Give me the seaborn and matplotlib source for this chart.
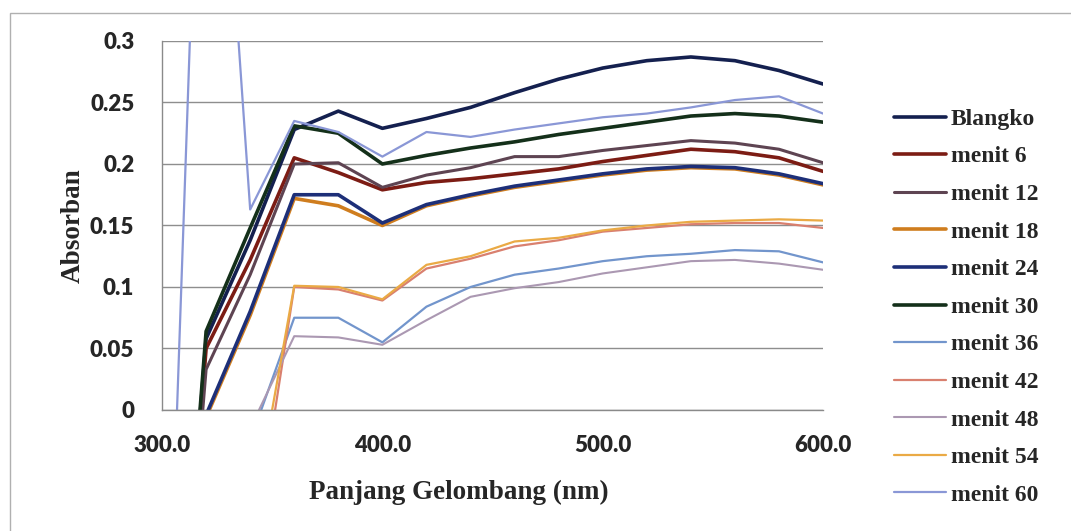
import matplotlib
matplotlib.use("Agg")
import matplotlib.pyplot as plt
from matplotlib.patches import Rectangle
import seaborn as sns

# wavelength grid (nm)
wavelength = [300, 320, 340, 360, 380, 400, 420, 440, 460, 480, 500, 520, 540, 560, 580, 600]

blangko = [-0.40, 0.058, 0.138, 0.228, 0.243, 0.229, 0.237, 0.246, 0.258, 0.269, 0.278, 0.284, 0.287, 0.284, 0.276, 0.265]
menit_6 = [-0.40, 0.050, 0.122, 0.205, 0.193, 0.179, 0.185, 0.188, 0.192, 0.196, 0.202, 0.207, 0.212, 0.210, 0.205, 0.194]
menit_12 = [-0.40, 0.033, 0.110, 0.200, 0.201, 0.181, 0.191, 0.197, 0.206, 0.206, 0.211, 0.215, 0.219, 0.217, 0.212, 0.201]
menit_18 = [-0.40, -0.006, 0.077, 0.172, 0.166, 0.150, 0.166, 0.174, 0.181, 0.186, 0.191, 0.195, 0.197, 0.196, 0.191, 0.183]
menit_24 = [-0.40, -0.004, 0.080, 0.175, 0.175, 0.152, 0.167, 0.175, 0.182, 0.187, 0.192, 0.196, 0.198, 0.197, 0.192, 0.184]
menit_30 = [-0.40, 0.064, 0.148, 0.231, 0.225, 0.200, 0.207, 0.213, 0.218, 0.224, 0.229, 0.234, 0.239, 0.241, 0.239, 0.234]
menit_36 = [-0.30, -0.15, -0.025, 0.075, 0.075, 0.055, 0.084, 0.100, 0.110, 0.115, 0.121, 0.125, 0.127, 0.130, 0.129, 0.120]
menit_42 = [-0.40, -0.30, -0.13, 0.100, 0.098, 0.089, 0.115, 0.123, 0.133, 0.138, 0.145, 0.148, 0.151, 0.152, 0.152, 0.148]
menit_48 = [-0.30, -0.15, -0.015, 0.060, 0.059, 0.053, 0.073, 0.092, 0.099, 0.104, 0.111, 0.116, 0.121, 0.122, 0.119, 0.114]
menit_54 = [-0.40, -0.30, -0.10, 0.101, 0.100, 0.090, 0.118, 0.125, 0.137, 0.140, 0.146, 0.150, 0.153, 0.154, 0.155, 0.154]
menit_60 = [-0.35, 0.68, 0.163, 0.235, 0.226, 0.206, 0.226, 0.222, 0.228, 0.233, 0.238, 0.241, 0.246, 0.252, 0.255, 0.241]

labels = ["Blangko", "menit 6", "menit 12", "menit 18", "menit 24", "menit 30",
          "menit 36", "menit 42", "menit 48", "menit 54", "menit 60"]
series = [blangko, menit_6, menit_12, menit_18, menit_24, menit_30,
          menit_36, menit_42, menit_48, menit_54, menit_60]
colors = ["#14204f", "#7c1c14", "#5e4452", "#cf7d1e", "#1d2f78", "#14301a",
          "#7295cc", "#d9806f", "#ab98b2", "#eaaa45", "#8a97d6"]
widths = [2.6, 2.6, 2.2, 2.6, 2.6, 2.6, 1.6, 1.6, 1.5, 1.6, 1.6]

x_ticks = [300, 400, 500, 600]
y_ticks = [0, 0.05, 0.1, 0.15, 0.2, 0.25, 0.3]
y_ticklabels = ["0", "0.05", "0.1", "0.15", "0.2", "0.25", "0.3"]

sns.set_style("white")
plt.rcParams["font.family"] = ["Lato", "DejaVu Sans"]

fig = plt.figure(figsize=(10.71, 5.31), dpi=100)
ax = fig.add_axes([0.1513, 0.2279, 0.6172, 0.6949])

for lab, vals, col, lw in zip(labels, series, colors, widths):
    sns.lineplot(x=wavelength, y=vals, ax=ax, color=col, linewidth=lw, label=lab)

ax.set_xlim(300, 600)
ax.set_ylim(0, 0.3)
ax.set_xticks(x_ticks)
ax.set_xticklabels([f"{v:.1f}" for v in x_ticks])
ax.set_yticks(y_ticks)
ax.set_yticklabels(y_ticklabels)
ax.tick_params(axis="x", labelsize=16, length=5, width=1, color="#8a8a8a",
               direction="out", pad=13)
ax.tick_params(axis="y", labelsize=16, length=8, width=1, color="#8a8a8a",
               direction="inout", pad=16)
for t in ax.get_xticklabels() + ax.get_yticklabels():
    t.set_fontweight("heavy")

ax.yaxis.grid(True, color="#8e8e8e", linewidth=1.0)
ax.xaxis.grid(False)
for side in ["top", "right"]:
    ax.spines[side].set_visible(False)
for side in ["left", "bottom"]:
    ax.spines[side].set_color("#8a8a8a")
    ax.spines[side].set_linewidth(1.0)

serif = ["Liberation Serif", "DejaVu Serif"]
ax.set_xlabel("Panjang Gelombang (nm)", family=serif, fontsize=19.5, fontweight="bold")
ax.set_ylabel("Absorban", family=serif, fontsize=19.5, fontweight="bold")
ax.xaxis.set_label_coords(0.449, -0.19)
ax.yaxis.set_label_coords(-0.116, 0.5)

leg = ax.legend(loc="upper left", bbox_to_anchor=(0.835, 0.796),
                bbox_transform=fig.transFigure, frameon=False,
                prop={"family": serif, "weight": "bold", "size": 17},
                handlelength=2.2, handletextpad=0.2, labelspacing=0.68,
                borderpad=0, borderaxespad=0)

# thin chart-area border
fig.patches.append(Rectangle((0.009, -0.01), 1.0, 0.985, transform=fig.transFigure,
                             fill=False, edgecolor="#b0b0b0", linewidth=1.0))

fig.savefig("out.png", dpi=100)
